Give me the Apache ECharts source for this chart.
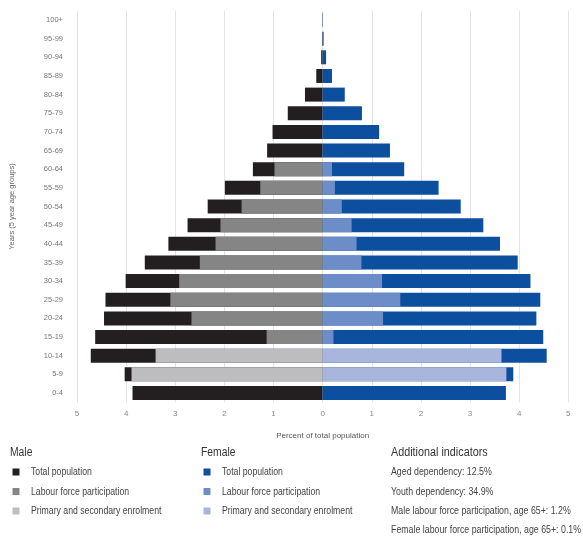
<!DOCTYPE html>
<html lang="en">

<head>
    <meta charset="UTF-8">
    <title>Population pyramid</title>
    <script src="https://cdn.jsdelivr.net/npm/echarts@6/dist/echarts.min.js"></script>
    <style>
        html, body {
            margin: 0;
            padding: 0;
            background: #fff;
        }
    </style>
</head>

<body>
    <div id="chart" style="width: 583px; height: 538px;"></div>

    <script>
        // age groups, bottom to top
        const ageGroups = ['0-4', '5-9', '10-14', '15-19', '20-24', '25-29', '30-34', '35-39', '40-44', '45-49',
            '50-54', '55-59', '60-64', '65-69', '70-74', '75-79', '80-84', '85-89', '90-94', '95-99', '100+'];

        // percent of total population
        const maleTotal = [3.87, 4.03, 4.72, 4.63, 4.45, 4.42, 4.01, 3.62, 3.14, 2.75,
            2.34, 1.99, 1.42, 1.13, 1.02, 0.71, 0.36, 0.13, 0.03, 0.01, 0.005];
        const maleLabour = [null, null, null, 1.14, 2.67, 3.10, 2.92, 2.50, 2.18, 2.08,
            1.65, 1.27, 0.98, null, null, null, null, null, null, null, null];
        const maleEnrol = [null, 3.89, 3.40, null, null, null, null, null, null, null,
            null, null, null, null, null, null, null, null, null, null, null];

        const femaleTotal = [3.73, 3.88, 4.56, 4.49, 4.35, 4.43, 4.23, 3.97, 3.61, 3.27,
            2.81, 2.36, 1.66, 1.37, 1.15, 0.80, 0.45, 0.19, 0.07, 0.02, 0.005];
        const femaleLabour = [null, null, null, 0.22, 1.23, 1.58, 1.21, 0.79, 0.69, 0.59,
            0.39, 0.25, 0.19, null, null, null, null, null, null, null, null];
        const femaleEnrol = [null, 3.74, 3.64, null, null, null, null, null, null, null,
            null, null, null, null, null, null, null, null, null, null, null];

        const legendNames = ['Total population', 'Labour force participation', 'Primary and secondary enrolment'];
        const indicators = [
            'Aged dependency: 12.5%',
            'Youth dependency: 34.9%',
            'Male labour force participation, age 65+: 1.2%',
            'Female labour force participation, age 65+: 0.1%'
        ];

        const font = "'Liberation Sans', Arial, sans-serif";
        const maleColors = ['#231f20', '#858585', '#bdbdbf'];
        const femaleColors = ['#0b4f9e', '#6d8dc8', '#a8b6dd'];

        const neg = arr => arr.map(v => v === null ? null : -v);

        function barSeries(name, data, color) {
            return {
                name: name,
                type: 'bar',
                data: data,
                barWidth: 14,
                barGap: '-100%',
                itemStyle: { color: color },
                emphasis: { disabled: true }
            };
        }

        const series = [
            barSeries('m0', neg(maleTotal), maleColors[0]),
            barSeries('f0', femaleTotal, femaleColors[0]),
            barSeries('m1', neg(maleLabour), maleColors[1]),
            barSeries('f1', femaleLabour, femaleColors[1]),
            barSeries('m2', neg(maleEnrol), maleColors[2]),
            barSeries('f2', femaleEnrol, femaleColors[2])
        ];

        // legend keeps the coloured squares, text is drawn narrow below
        function legendBlock(prefix, left) {
            return {
                orient: 'vertical',
                left: left,
                top: 468.5,
                padding: 0,
                itemWidth: 7,
                itemHeight: 7,
                itemGap: 12.5,
                itemTextGap: 0,
                selectedMode: false,
                icon: 'rect',
                data: [prefix + '0', prefix + '1', prefix + '2'],
                formatter: () => '',
                textStyle: { fontSize: 7, lineHeight: 7 }
            };
        }

        const rowY = [472, 491.5, 511, 530];
        const graphics = [];

        function narrowText(text, x, y, size, color, sx) {
            graphics.push({
                type: 'text', x: x, y: y, scaleX: sx, silent: true,
                style: { text: text, fontFamily: font, fontSize: size, fill: color, verticalAlign: 'middle' }
            });
        }

        narrowText('Male', 10, 453, 12, '#333', 0.86);
        narrowText('Female', 201, 453, 12, '#333', 0.86);
        narrowText('Additional indicators', 391, 453, 12, '#333', 0.9);
        legendNames.forEach((t, i) => {
            narrowText(t, 31, rowY[i], 11, '#444', 0.79);
            narrowText(t, 222, rowY[i], 11, '#444', 0.79);
        });
        indicators.forEach((t, i) => narrowText(t, 391, rowY[i], 11, '#444', 0.8));

        let chart = echarts.init(document.getElementById('chart'));

        let option = {
            animation: false,
            grid: {
                left: 73.5,
                right: 14.7,
                top: 10.7,
                bottom: 135.7,
                containLabel: false
            },
            xAxis: {
                type: 'value',
                min: -5,
                max: 5,
                interval: 1,
                name: 'Percent of total population',
                nameLocation: 'middle',
                nameGap: 29,
                nameTextStyle: { fontFamily: font, fontSize: 8, color: '#555' },
                axisLine: { show: false },
                axisTick: { show: false },
                axisLabel: {
                    margin: 7,
                    fontFamily: font,
                    fontSize: 8,
                    color: '#888',
                    formatter: v => Math.abs(v)
                },
                splitLine: { lineStyle: { color: '#e4e4e4', width: 1 } }
            },
            yAxis: {
                type: 'category',
                data: ageGroups,
                name: 'Years (5 year age groups)',
                nameLocation: 'middle',
                nameRotate: 90,
                nameGap: 61,
                nameTextStyle: { fontFamily: font, fontSize: 7.5, color: '#666' },
                axisLine: { show: false },
                axisTick: { show: false },
                axisLabel: {
                    margin: 14,
                    fontFamily: font,
                    fontSize: 7.5,
                    color: '#777'
                },
                splitLine: { show: false }
            },
            legend: [legendBlock('m', 12.5), legendBlock('f', 203.5)],
            graphic: graphics,
            series: series
        };

        chart.setOption(option);
    </script>
</body>

</html>
